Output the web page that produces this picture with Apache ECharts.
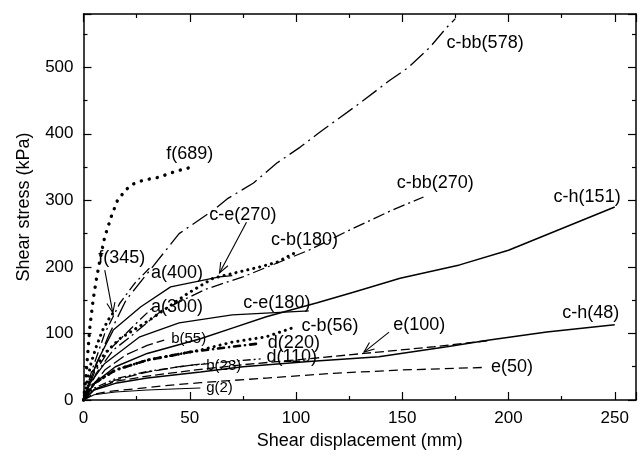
<!DOCTYPE html>
<html><head><meta charset="utf-8">
<script src="https://cdn.jsdelivr.net/npm/echarts@6/dist/echarts.min.js"></script>
<style>html,body{margin:0;padding:0;background:#fff}#c{width:640px;height:461px}</style>
</head><body><div id="c"></div>
<script>
// ---- data (shear displacement mm, shear stress kPa) ----
const xTicks = [0, 50, 100, 150, 200, 250];
const yTicks = [0, 100, 200, 300, 400, 500];
const f689  = [[0,0],[1,30],[2,70],[3,110],[4.5,150],[6,180],[8,215],[10,245],[13,275],[16,300],[20,316],[23,324],[27,329],[31,332],[36,335],[40,340],[45,345],[51,350]];
const f345  = [[0,0],[1.5,25],[3.5,55],[6,80],[9,105],[12,122],[14,131]];
const cbb578 = [[0,0],[5,45],[12,98],[20,150],[30,190],[45,250],[61,285],[68,303],[80,326],[91,356],[102,380],[111,402],[130,446],[144,480],[153,500],[163,530],[171,560],[175,573]];
const cbb270 = [[0,0],[6,40],[14,75],[22,95],[37,135],[50,155],[58,167],[75,185],[106,225],[125,255],[145,285],[160,305]];
const cb180 = [[0,0],[4,40],[10,70],[17,92],[31,120],[49,160],[61,183],[70,190],[83,200],[91,207],[100,222]];
const ce270 = [[0,0],[1.7,15],[6,55],[14,105],[27,140],[41,170],[64,185],[70,187]];
const a400  = [[0,0],[4,45],[10,100],[17,145],[24,175],[31,198]];
const a300  = [[0,0],[5,40],[12,75],[20,100],[27,122],[33,140]];
const ce180 = [[0,0],[3,25],[10,55],[26.5,95],[45,116],[70,128],[106,134]];
const ch151 = [[0,0],[5,25],[15,50],[30,70],[55,92],[70,108],[86,125],[110,146],[127,162],[149,183],[177,203],[200,225],[250,290]];
const ch48  = [[0,0],[5,15],[15,25],[30,33],[55,42],[75,50],[106,58],[139,65],[171,80],[191,90],[218,102],[250,113]];
const e100  = [[0,0],[5,16],[15,28],[30,36],[55,46],[75,53],[106,62],[132,70],[165,80],[190,89]];
const e50   = [[0,0],[4,8],[12,13],[25,17],[40,22],[55,26],[86,33],[117,40],[149,45],[189,49]];
const g2    = [[0,0],[5,8],[15,12],[30,15],[45,17],[55,18]];
const b28   = [[0,0],[5,15],[15,30],[30,42],[45,50],[57,55]];
const b55   = [[0,0],[4,20],[10,45],[20,68],[30,82],[38,90]];
const d110  = [[0,0],[5,18],[15,32],[30,43],[50,52],[70,58],[84,62]];
const d220  = [[0,0],[5,25],[15,45],[30,60],[50,72],[70,80],[83,85]];
const cb56  = [[0,0],[5,25],[15,45],[30,60],[55,75],[70,87],[86,95],[98,108]];
const seriesNames = ['f(689)','f(345)','c-bb(578)','c-bb(270)','c-b(180)','c-e(270)','a(400)','a(300)','c-e(180)','c-h(151)','c-h(48)','e(100)','e(50)','g(2)','b(28)','b(55)','d(110)','d(220)','c-b(56)'];
// label anchors (data coords) and arrows
const labelPos = {'f(689)':[50,370],'f(345)':[18,213],'c-bb(578)':[189,536],'c-bb(270)':[165.5,326],'c-b(180)':[104,240],'c-e(270)':[75,278],'a(400)':[44,191],'a(300)':[44,140],'c-e(180)':[91,146],'c-h(151)':[237,305],'c-h(48)':[238.7,130.6],'e(100)':[158,113],'e(50)':[201.6,50],'g(2)':[64,18],'b(28)':[66,51],'b(55)':[49.5,92],'d(110)':[98,64.6],'d(220)':[99,86],'c-b(56)':[116,111]};
const arrows = [[[10,195],[13.8,131]],[[76.7,267],[64,191]],[[143.8,102],[132,72]]];

const K = '#000';
const styles = {
  'f(689)':{type:[0.1,8],width:3.4,cap:'round'},
  'f(345)':{type:[0.1,6],width:3,cap:'round'},
  'c-bb(578)':{type:[18,5,2,5],width:1.3},
  'c-bb(270)':{type:[12,4,2,4],width:1.3},
  'c-b(180)':{type:[0.1,6],width:3,cap:'round'},
  'c-e(270)':{type:'solid',width:1.3},
  'a(400)':{type:[10,4,2,4],width:1.3},
  'a(300)':{type:[10,4,2,4],width:1.3},
  'c-e(180)':{type:'solid',width:1.3},
  'c-h(151)':{type:'solid',width:1.5},
  'c-h(48)':{type:'solid',width:1.5},
  'e(100)':{type:[9,4],width:1.3},
  'e(50)':{type:[9,5],width:1.3},
  'g(2)':{type:'solid',width:1.1},
  'b(28)':{type:[12,4],width:1.3},
  'b(55)':{type:[12,4],width:1.3},
  'd(110)':{type:[8,3,2,3,2,3],width:1.3},
  'd(220)':{type:[0.1,5,6,5],width:2.6,cap:'round'},
  'c-b(56)':{type:[0.1,6],width:3,cap:'round'}
};
const dataMap = {'f(689)':f689,'f(345)':f345,'c-bb(578)':cbb578,'c-bb(270)':cbb270,'c-b(180)':cb180,'c-e(270)':ce270,'a(400)':a400,'a(300)':a300,'c-e(180)':ce180,'c-h(151)':ch151,'c-h(48)':ch48,'e(100)':e100,'e(50)':e50,'g(2)':g2,'b(28)':b28,'b(55)':b55,'d(110)':d110,'d(220)':d220,'c-b(56)':cb56};
const smallLabels = {'g(2)':1,'b(28)':1,'b(55)':1};

const FONT = 'Liberation Sans, Arial, sans-serif';
const chart = echarts.init(document.getElementById('c'), null, {renderer:'canvas'});
const axisCommon = {
  axisLine:{show:true,onZero:false,lineStyle:{color:K,width:1.5}},
  axisTick:{show:true,inside:true,length:8,lineStyle:{color:K,width:1.2}},
  minorTick:{show:true,splitNumber:2,length:4,lineStyle:{color:K,width:1.2}},
  splitLine:{show:false}
};
const xFmt = v => xTicks.indexOf(v) >= 0 ? String(v) : '';
const yFmt = v => yTicks.indexOf(v) >= 0 ? String(v) : '';
const option = {
  animation:false,
  backgroundColor:'#fff',
  grid:{left:83.5,right:4,top:14,bottom:61,containLabel:false},
  xAxis:[
    Object.assign({type:'value',min:0,max:260,interval:50,position:'bottom',
      name:'Shear displacement (mm)',nameLocation:'middle',nameGap:31,
      nameTextStyle:{fontFamily:FONT,fontSize:18,color:K},
      axisLabel:{formatter:xFmt,fontFamily:FONT,fontSize:17,color:K,margin:10}},axisCommon),
    Object.assign({type:'value',min:0,max:260,interval:50,position:'top',axisLabel:{show:false}},axisCommon)
  ],
  yAxis:[
    Object.assign({type:'value',min:0,max:580,interval:100,position:'left',
      name:'Shear stress (kPa)',nameLocation:'middle',nameGap:50,
      nameTextStyle:{fontFamily:FONT,fontSize:18,color:K},
      axisLabel:{formatter:yFmt,fontFamily:FONT,fontSize:17,color:K,margin:10}},axisCommon),
    Object.assign({type:'value',min:0,max:580,interval:100,position:'right',axisLabel:{show:false}},axisCommon)
  ],
  series: seriesNames.map(n => ({
    name:n,type:'line',xAxisIndex:0,yAxisIndex:0,data:dataMap[n],
    showSymbol:false,symbol:'none',smooth:false,silent:true,
    lineStyle:Object.assign({color:K},styles[n])
  }))
};
chart.setOption(option);

const graphics = [];
seriesNames.forEach(n => {
  const p = chart.convertToPixel({xAxisIndex:0,yAxisIndex:0}, labelPos[n]);
  graphics.push({type:'text',x:p[0],y:p[1],silent:true,
    style:{text:n,fill:K,font:(smallLabels[n]?'15px ':'18px ')+FONT,align:'center',verticalAlign:'middle'}});
});
arrows.forEach(a => {
  const p0 = chart.convertToPixel({xAxisIndex:0,yAxisIndex:0}, a[0]);
  const p1 = chart.convertToPixel({xAxisIndex:0,yAxisIndex:0}, a[1]);
  const ang = Math.atan2(p1[1]-p0[1], p1[0]-p0[0]);
  const L = 11, w = 0.38;
  const h1 = [p1[0]-L*Math.cos(ang-w), p1[1]-L*Math.sin(ang-w)];
  const h2 = [p1[0]-L*Math.cos(ang+w), p1[1]-L*Math.sin(ang+w)];
  graphics.push({type:'line',silent:true,shape:{x1:p0[0],y1:p0[1],x2:p1[0],y2:p1[1]},style:{stroke:K,lineWidth:1.1}});
  graphics.push({type:'polyline',silent:true,shape:{points:[h1,p1,h2]},style:{stroke:K,lineWidth:1.1,fill:null}});
});
chart.setOption({graphic:graphics});
</script></body></html>
